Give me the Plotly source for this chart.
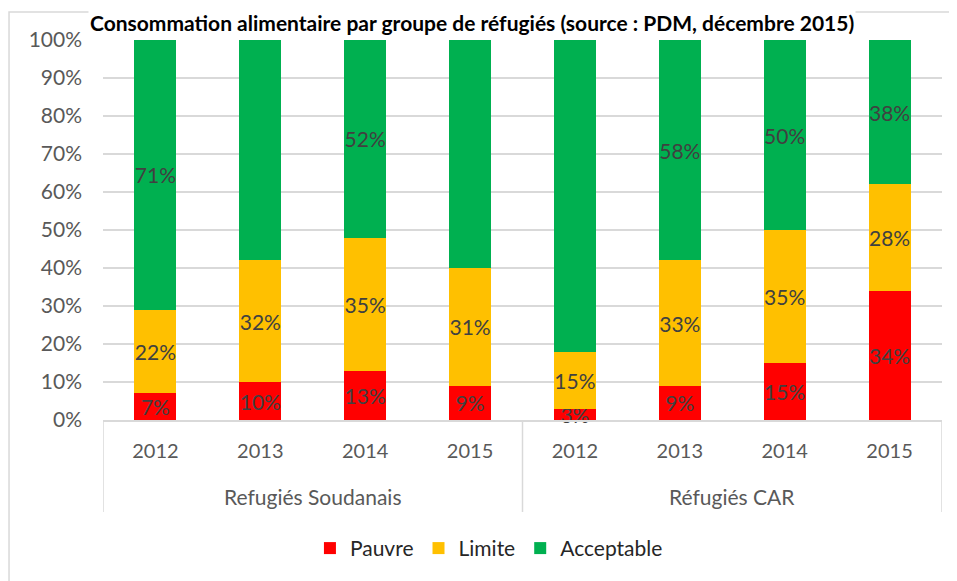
import plotly.graph_objects as go

groups = ["Refugiés Soudanais", "Réfugiés CAR"]
years = ["2012", "2013", "2014", "2015"]
pauvre = [7, 10, 13, 9, 3, 9, 15, 34]
limite = [22, 32, 35, 31, 15, 33, 35, 28]
acceptable = [71, 59, 52, 61, 83, 58, 50, 38]
series = [("Pauvre", pauvre, "#FF0000"), ("Limite", limite, "#FFC000"), ("Acceptable", acceptable, "#00B050")]
yticks = list(range(0, 101, 10))
title = "Consommation alimentaire par groupe de réfugiés (source : PDM, décembre 2015)"

categories = [f"{g} {y}" for g in groups for y in years]
year_labels = [y for g in groups for y in years]

FONT = "Lato"
GRID = "#D9D9D9"
fig = go.Figure()
for name, vals, col in series:
    fig.add_trace(go.Bar(
        x=categories, y=vals, name=name, marker_color=col, marker_line_width=0,
        text=[f"{v}%" for v in vals], textposition="inside", insidetextanchor="middle",
        textangle=0, textfont=dict(family=FONT, size=21, color="#404040"), constraintext="none",
        cliponaxis=False, width=0.4,
    ))

fig.update_layout(
    barmode="stack", width=949, height=573,
    margin=dict(l=95, r=15, t=32, b=161),
    paper_bgcolor="white", plot_bgcolor="white",
    uniformtext=dict(mode="show", minsize=21),
    font=dict(family=FONT, color="#595959", size=20),
    legend=dict(orientation="h", x=0.46, xanchor="center", y=-0.338, yanchor="middle",
                font=dict(family=FONT, size=21, color="#262626"), traceorder="normal"),
    yaxis=dict(range=[0, 100], tickvals=yticks, ticktext=[f"{v}%" for v in yticks],
               showgrid=True, gridcolor=GRID, gridwidth=1.5, zeroline=False,
               ticks="", showline=False, ticklabelstandoff=20,
               tickfont=dict(size=21, color="#595959")),
    xaxis=dict(type="category", categoryorder="array", categoryarray=categories,
               tickvals=categories, ticktext=year_labels, range=[-0.5, 7.5],
               showline=True, linecolor=GRID, linewidth=1.5, ticks="", ticklabelstandoff=12,
               tickfont=dict(size=20, color="#595959")),
    showlegend=True,
)
# outer chart border
fig.add_shape(type="rect", xref="paper", yref="paper", x0=-0.112, x1=1.05, y0=-0.45, y1=1.0737,
              line=dict(color=GRID, width=1.5), layer="below")
# group dividers
for xv in [-0.5, 3.5, 7.5]:
    fig.add_shape(type="line", xref="x", yref="paper", x0=xv, x1=xv, y0=0, y1=-0.242,
                  line=dict(color=GRID, width=1.5))
for i, g in enumerate(groups):
    fig.add_annotation(text=g, xref="x", yref="paper", x=i * 4 + 1.5, y=-0.2026,
                       xanchor="center", yanchor="middle", showarrow=False,
                       font=dict(family=FONT, size=21, color="#595959"))
fig.add_annotation(text="<b>" + title + "</b>", xref="paper", yref="paper", x=0.44, y=1.0842,
                   xanchor="center", yanchor="top", showarrow=False, bgcolor="white",
                   font=dict(family=FONT, size=21, color="black"))
fig.write_html("out.html")
